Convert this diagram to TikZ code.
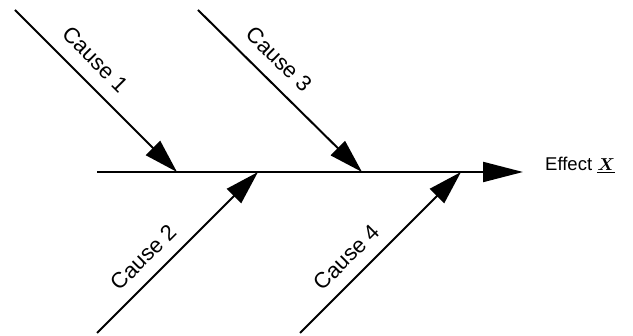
\documentclass[tikz,border=0pt]{standalone}
\usepackage{fontspec}
\setmainfont{Liberation Sans}
\usepackage{bm}
\usetikzlibrary{arrows.meta}
\begin{document}
\begin{tikzpicture}[x=1pt,y=1pt,
  bone/.style={line width=2pt,-{Triangle[length=34pt,width=20pt]}},
  causelabel/.style={font=\fontsize{22}{24}\selectfont,sloped,above,inner sep=0pt},
]
\useasboundingbox (0,0) rectangle (633,336);
\coordinate (s) at (97,164);
\coordinate (e) at (523,164);
\coordinate (c1s) at (15,326);
\coordinate (c1e) at (177,164);
\coordinate (c3s) at (198,326);
\coordinate (c3e) at (362,164);
\coordinate (c2s) at (97,3);
\coordinate (c2e) at (258,164);
\coordinate (c4s) at (300,3);
\coordinate (c4e) at (461,164);
\draw[line width=2pt,-{Triangle[length=40pt,width=20pt]}] (s) -- (e);
\node[anchor=west,font=\fontsize{18.5}{20}\selectfont,inner sep=0pt] (eff) at (545,171) {Effect $\underline{\bm{X}}$};
\draw[bone] (c1s) -- node[causelabel,pos=0.4,yshift=13pt] (l1) {Cause 1} (c1e);
\draw[bone] (c3s) -- node[causelabel,pos=0.4,yshift=13pt] (l3) {Cause 3} (c3e);
\draw[bone] (c2s) -- node[causelabel,pos=0.38,yshift=12pt] (l2) {Cause 2} (c2e);
\draw[bone] (c4s) -- node[causelabel,pos=0.38,yshift=12pt] (l4) {Cause 4} (c4e);
\end{tikzpicture}
\end{document}
